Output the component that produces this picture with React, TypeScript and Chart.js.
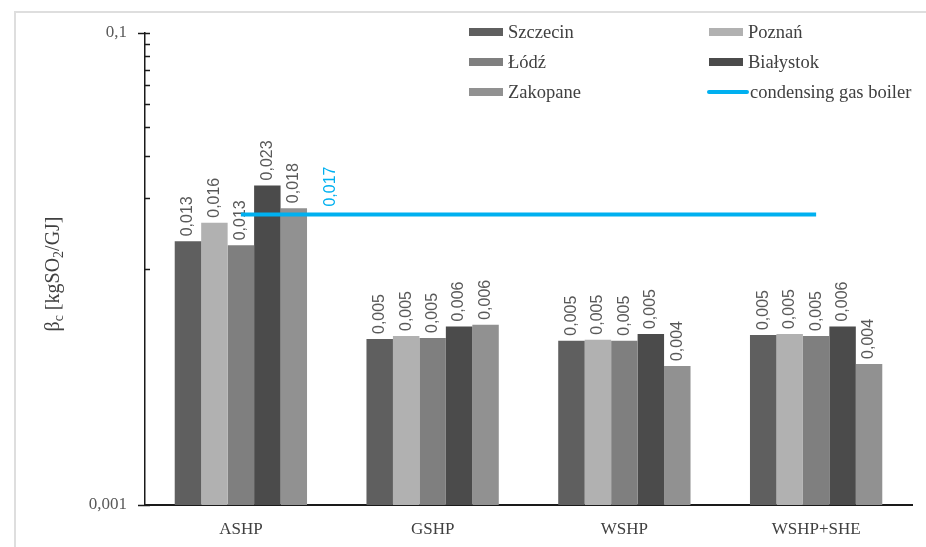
import React, { useEffect, useRef } from "react";
import { Chart, registerables } from "chart.js";

Chart.register(...registerables);

const categories = ["ASHP", "GSHP", "WSHP", "WSHP+SHE"];
const cityNames = ["Szczecin", "Poznań", "Łódź", "Białystok", "Zakopane"];
const szczecin = [0.0131, 0.00505, 0.00497, 0.00525];
const poznan = [0.0157, 0.0052, 0.00502, 0.0053];
const lodz = [0.0126, 0.0051, 0.00497, 0.0052];
const bialystok = [0.0226, 0.0057, 0.0053, 0.0057];
const zakopane = [0.0181, 0.0058, 0.00388, 0.00396];
const boiler = [0.017, 0.017, 0.017, 0.017];
const boilerName = "condensing gas boiler";
const boilerLabel = "0,017";
const cityColors = ["#5f5f5f", "#b1b1b1", "#7f7f7f", "#4b4b4b", "#919191"];
const boilerColor = "#00b0f0";
const majorTicks = [0.001, 0.1];
const majorTickLabels = ["0,001", "0,1"];
const minorTicks = [0.01, 0.02, 0.03, 0.04, 0.05, 0.06, 0.07, 0.08, 0.09];

const SERIF = "'Liberation Serif', 'DejaVu Serif', serif";
const SANS = "'Liberation Sans', Arial, sans-serif";

const fmt = (v: number) => v.toFixed(3).replace(".", ",");

const decor = {
  id: "decor",
  afterDatasetDraw(chart: any, args: any) {
    const ds = chart.data.datasets[args.index];
    if (ds.type === "line") return;
    const ctx = chart.ctx;
    ctx.save();
    ctx.font = `16px ${SANS}`;
    ctx.fillStyle = "#595959";
    ctx.textAlign = "left";
    ctx.textBaseline = "middle";
    args.meta.data.forEach((bar: any, i: number) => {
      ctx.save();
      ctx.translate(bar.x, bar.y - 5);
      ctx.rotate(-Math.PI / 2);
      ctx.fillText(fmt(ds.data[i]), 0, 0);
      ctx.restore();
    });
    ctx.restore();
  },
  afterDraw(chart: any) {
    const ctx = chart.ctx;
    const y = chart.scales.y;
    const left = chart.chartArea.left;
    ctx.save();
    // tick marks
    ctx.strokeStyle = "#1a1a1a";
    ctx.lineWidth = 1.5;
    majorTicks.forEach((v) => {
      const py = Math.round(y.getPixelForValue(v)) + 0.5;
      ctx.beginPath();
      ctx.moveTo(left - 7, py);
      ctx.lineTo(left + 5, py);
      ctx.stroke();
    });
    minorTicks.forEach((v) => {
      const py = Math.round(y.getPixelForValue(v)) + 0.5;
      ctx.beginPath();
      ctx.moveTo(left, py);
      ctx.lineTo(left + 5, py);
      ctx.stroke();
    });

    // boiler label
    const lineIdx = chart.data.datasets.findIndex((d: any) => d.type === "line");
    const p0 = chart.getDatasetMeta(lineIdx).data[0];
    ctx.save();
    ctx.font = `16px ${SANS}`;
    ctx.fillStyle = boilerColor;
    ctx.textAlign = "left";
    ctx.textBaseline = "middle";
    ctx.translate(p0.x + 90, p0.y - 8);
    ctx.rotate(-Math.PI / 2);
    ctx.fillText(boilerLabel, 0, 0);
    ctx.restore();

    // legend
    ctx.font = `18.5px ${SERIF}`;
    ctx.textBaseline = "middle";
    ctx.textAlign = "left";
    const colSw = [469, 709];
    const rowY = [32, 62, 92];
    chart.data.datasets.forEach((d: any, i: number) => {
      const col = i % 2;
      const row = Math.floor(i / 2);
      const sx = colSw[col];
      const sy = rowY[row];
      if (d.type === "line") {
        ctx.strokeStyle = d.borderColor;
        ctx.lineWidth = 4;
        ctx.lineCap = "round";
        ctx.beginPath();
        ctx.moveTo(sx, sy);
        ctx.lineTo(sx + 38, sy);
        ctx.stroke();
      } else {
        ctx.fillStyle = d.backgroundColor;
        ctx.fillRect(sx, sy - 4, 34, 8);
      }
      ctx.fillStyle = "#404040";
      ctx.fillText(d.label, sx + (d.type === "line" ? 41 : 39), sy + 1);
    });

    // y axis title with subscripts
    const parts: [string, boolean][] = [
      ["β", false],
      ["c", true],
      [" [kgSO", false],
      ["2", true],
      ["/GJ]", false],
    ];
    const big = `20px ${SERIF}`;
    const small = `14px ${SERIF}`;
    let total = 0;
    parts.forEach(([t, s]) => {
      ctx.font = s ? small : big;
      total += ctx.measureText(t).width;
    });
    ctx.save();
    ctx.translate(53, 274);
    ctx.rotate(-Math.PI / 2);
    ctx.fillStyle = "#404040";
    ctx.textBaseline = "alphabetic";
    let x = -total / 2;
    parts.forEach(([t, s]) => {
      ctx.font = s ? small : big;
      ctx.fillText(t, x, s ? 10 : 6);
      x += ctx.measureText(t).width;
    });
    ctx.restore();
    ctx.restore();
  },
};

export default function App() {
  const ref = useRef<HTMLCanvasElement>(null);
  useEffect(() => {
    if (!ref.current) return;
    const series = [szczecin, poznan, lodz, bialystok, zakopane];
    const chart = new Chart(ref.current, {
      type: "bar",
      data: {
        labels: categories,
        datasets: [
          ...series.map((s, i) => ({
            type: "bar" as const,
            label: cityNames[i],
            data: s,
            backgroundColor: cityColors[i],
            borderWidth: 0,
            order: 1,
          })),
          {
            type: "line" as const,
            label: boilerName,
            data: boiler,
            borderColor: boilerColor,
            backgroundColor: boilerColor,
            borderWidth: 4,
            pointRadius: 0,
            order: 0,
          },
        ],
      } as any,
      options: {
        animation: false,
        responsive: true,
        maintainAspectRatio: false,
        layout: { padding: { left: 0, top: 33, right: 14, bottom: 0 } },
        datasets: { bar: { categoryPercentage: 0.69, barPercentage: 1 } },
        plugins: { legend: { display: false }, tooltip: { enabled: false } },
        scales: {
          x: {
            grid: { display: false },
            border: { display: true, color: "#1a1a1a", width: 2 },
            ticks: { color: "#404040", font: { family: SERIF, size: 17 }, padding: 6 },
            afterFit(scale: any) {
              scale.height = 42;
            },
          },
          y: {
            type: "logarithmic",
            min: 0.001,
            max: 0.1,
            grid: { display: false },
            border: { display: true, color: "#1a1a1a", width: 1.5 },
            afterBuildTicks(scale: any) {
              scale.ticks = [...majorTicks, ...minorTicks]
                .sort((a, b) => a - b)
                .map((v) => ({ value: v }));
            },
            ticks: {
              color: "#595959",
              font: { family: SERIF, size: 17 },
              padding: 10,
              autoSkip: false,
              callback(v: any) {
                const i = majorTicks.findIndex((m) => Math.abs(m - v) < 1e-9);
                return i >= 0 ? majorTickLabels[i] : "";
              },
            },
            afterFit(scale: any) {
              scale.width = 145;
            },
          },
        },
      },
      plugins: [decor],
    } as any);
    return () => chart.destroy();
  }, []);
  return (
    <div style={{ position: "absolute", left: 0, top: 0, width: 926, height: 547, overflow: "hidden", background: "#fff" }}>
      <div
        style={{
          position: "absolute",
          left: 14,
          top: 11,
          width: 1000,
          height: 1000,
          border: "2px solid #dedede",
        }}
      />
      <div style={{ position: "absolute", left: 0, top: 0, width: 926, height: 547 }}>
        <canvas ref={ref} />
      </div>
    </div>
  );
}
